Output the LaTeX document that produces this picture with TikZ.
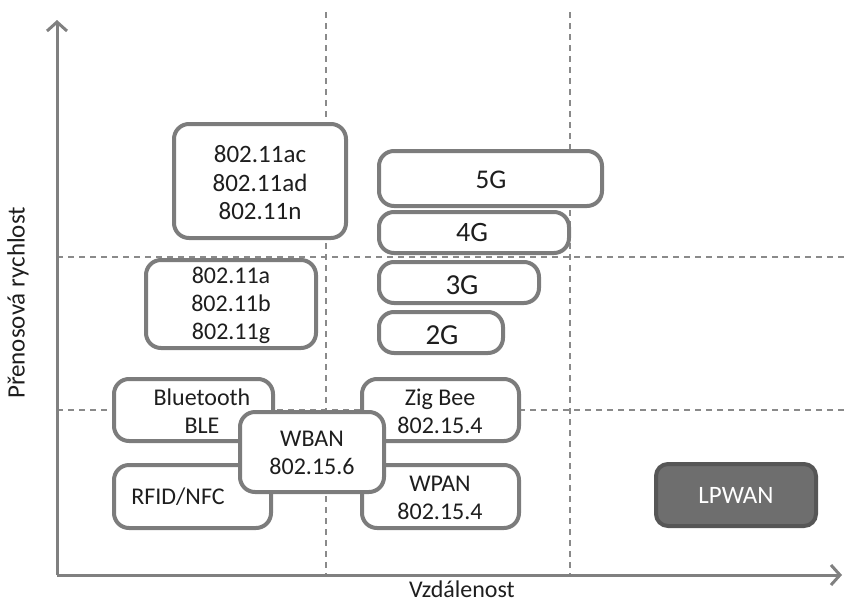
\documentclass[tikz,border=0pt]{standalone}
\usepackage{fontspec}
\setmainfont{Carlito}
\usetikzlibrary{arrows.meta}
\definecolor{edgegray}{HTML}{7C7C7C}
\definecolor{axisgray}{HTML}{808080}
\definecolor{gridgray}{HTML}{8A8A8A}
\definecolor{darkfill}{HTML}{6E6E6E}
\definecolor{darkedge}{HTML}{565656}
\definecolor{ink}{HTML}{1E1E1E}
\tikzset{
  box/.style={draw=edgegray, line width=4pt, fill=white, rounded corners=15pt, inner sep=0pt},
  darkbox/.style={draw=darkedge, line width=4pt, fill=darkfill, rounded corners=12pt, inner sep=0pt},
  lbl/.style={text=ink, align=center, font=\fontsize{24}{28}\selectfont, inner sep=0pt},
  gridline/.style={draw=gridgray, line width=1.5pt, dash pattern=on 6pt off 5pt},
  axis/.style={draw=axisgray, line width=3pt, -{Straight Barb[length=9pt,width=20pt,line width=3pt]}},
}
\begin{document}
\begin{tikzpicture}[x=1pt,y=-1pt]
\useasboundingbox (0,0) rectangle (846,603);

% grid
\draw[gridline] (326,12) -- (326,575);
\draw[gridline] (570,12) -- (570,575);
\draw[gridline] (57,257) -- (846,257);
\draw[gridline] (57,410) -- (846,410);

% axes
\coordinate (o) at (57,575);
\coordinate (ytip) at (57,20);
\coordinate (xtip) at (842,575);
\draw[axis] (o) -- (ytip);
\draw[axis] (o) -- (xtip);
\node[lbl, anchor=base] (xlabel) at (462,597) {Vzdálenost};
\node[lbl, font=\fontsize{25}{28}\selectfont, rotate=90] (ylabel) at (18,303) {Přenosová rychlost};

% WLAN
\node[box, minimum width=172pt, minimum height=114pt] (wlanhi) at (260,181) {};
\node[lbl, font=\fontsize{25}{28.5}\selectfont] (wlanhit) at (260,183) {802.11ac\\802.11ad\\802.11n};
\node[box, minimum width=170pt, minimum height=88pt] (wlanlo) at (231,304) {};
\node[lbl] (wlanlot) at (231,305) {802.11a\\802.11b\\802.11g};

% cellular
\node[box, minimum width=223pt, minimum height=55pt] (g5) at (490.5,178.5) {};
\node[lbl, font=\fontsize{27}{30}\selectfont] (g5t) at (491,180) {5G};
\node[box, minimum width=190pt, minimum height=41pt] (g4) at (474,232.5) {};
\node[lbl, font=\fontsize{28}{30}\selectfont] (g4t) at (472,233) {4G};
\node[box, minimum width=160pt, minimum height=41pt] (g3) at (459,282.5) {};
\node[lbl, font=\fontsize{29}{30}\selectfont] (g3t) at (462,285) {3G};
\node[box, minimum width=124pt, minimum height=41pt] (g2) at (441,332.5) {};
\node[lbl, font=\fontsize{29}{30}\selectfont] (g2t) at (442,335) {2G};

% short range
\node[box, minimum width=159pt, minimum height=62pt] (bt) at (193.5,410) {};
\node[lbl] (btt) at (202,411) {Bluetooth\\BLE};
\node[box, minimum width=157pt, minimum height=63pt] (rfid) at (192.5,496.5) {};
\node[lbl] (rfidt) at (178,497) {RFID/NFC};
\node[box, minimum width=157pt, minimum height=62pt] (zig) at (440.5,410) {};
\node[lbl] (zigt) at (440,411) {Zig Bee\\802.15.4};
\node[box, minimum width=157pt, minimum height=63pt] (wpan) at (440.5,496.5) {};
\node[lbl] (wpant) at (440,498) {WPAN\\802.15.4};
\node[box, minimum width=144pt, minimum height=80pt] (wban) at (312,452) {};
\node[lbl] (wbant) at (312,453) {WBAN\\802.15.6};

% LPWAN
\node[darkbox, minimum width=160pt, minimum height=62pt] (lpwan) at (736,495) {};
\node[lbl, text=white, font=\fontsize{25}{28}\selectfont] (lpwant) at (736,495) {LPWAN};
\end{tikzpicture}
\end{document}
